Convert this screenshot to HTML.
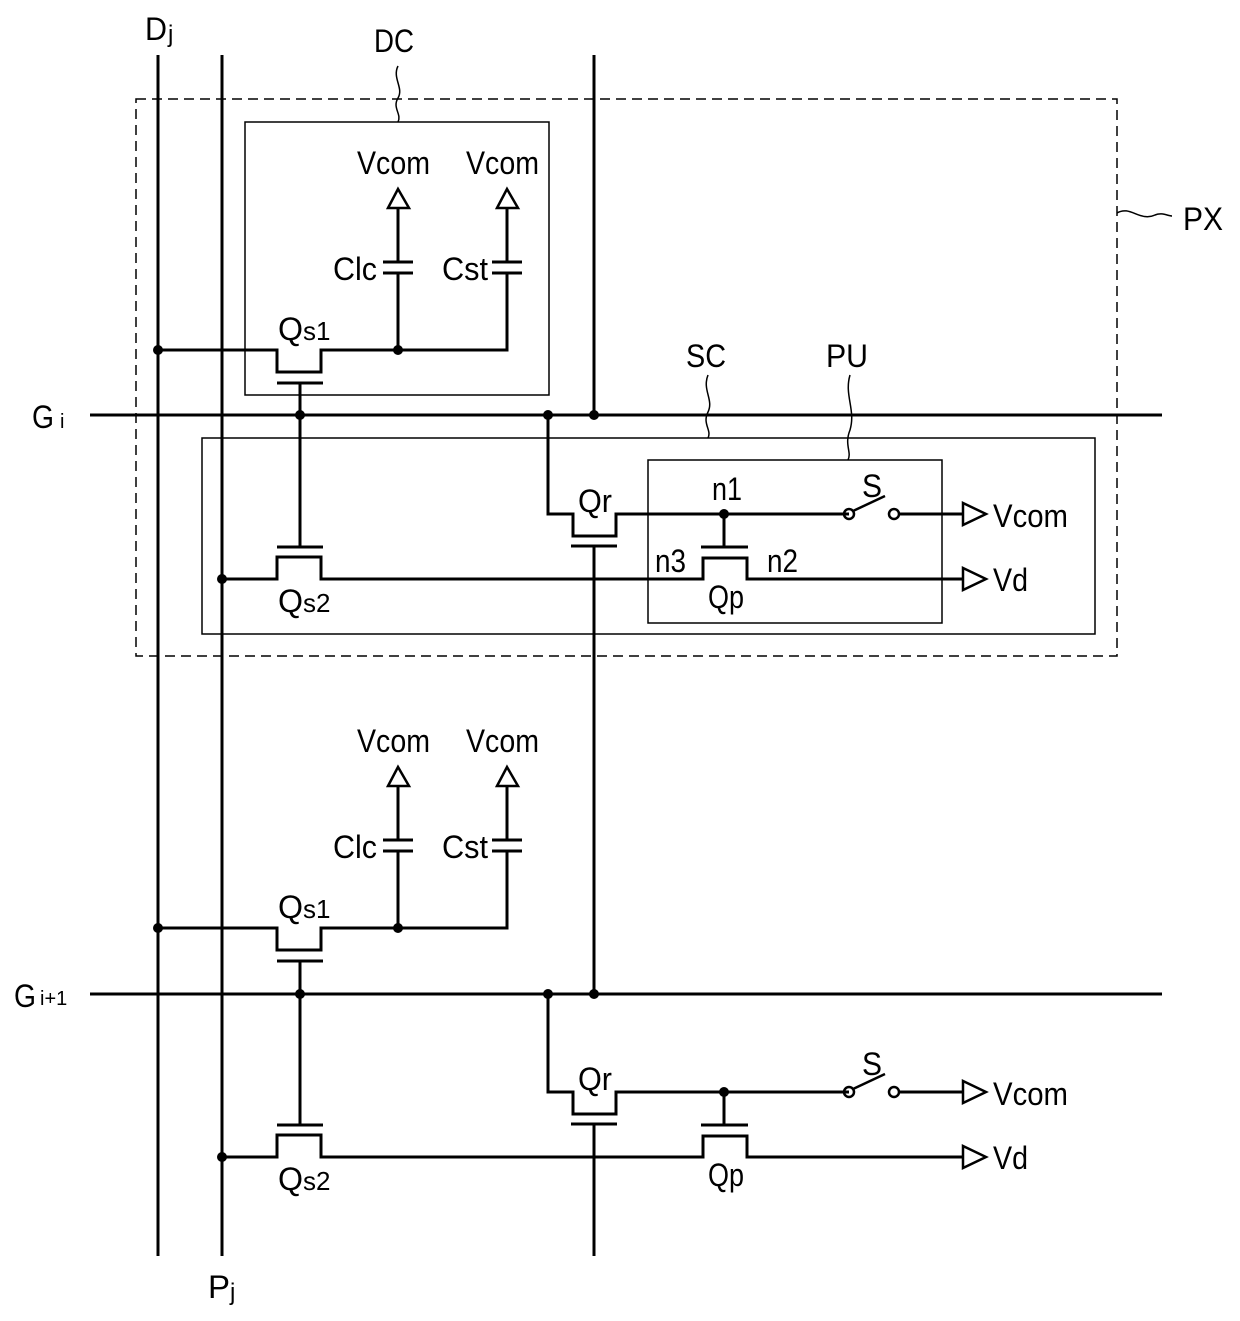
<!DOCTYPE html>
<html><head><meta charset="utf-8"><style>
html,body{margin:0;padding:0;background:#fff}
svg{display:block}
text{font-family:"Liberation Sans",sans-serif;fill:#000;font-size:32px}
.s{font-size:20px}
</style></head><body>
<svg width="1240" height="1321" viewBox="0 0 1240 1321" xmlns="http://www.w3.org/2000/svg">
<g fill="none" stroke="#000" stroke-width="3">
<line x1="158" y1="55" x2="158" y2="1256"/>
<line x1="222" y1="55" x2="222" y2="1256"/>
<line x1="594" y1="55" x2="594" y2="415"/>
<line x1="594" y1="546" x2="594" y2="994"/>
<line x1="594" y1="1125" x2="594" y2="1256"/>
<line x1="90" y1="415" x2="1162" y2="415"/>
<line x1="90" y1="994" x2="1162" y2="994"/>
</g>
<g fill="none" stroke="#000" stroke-width="1.5">
<rect x="245" y="122" width="304" height="273"/>
<rect x="202" y="438" width="893" height="196"/>
<rect x="648" y="460" width="294" height="163"/>
<rect x="136" y="99" width="981" height="557" stroke-dasharray="10,6"/>
<path d="M398 66 C392 78,404 88,398 98 C392 108,402 114,398 122"/>
<path d="M708 375 C702 390,714 400,708 412 C702 424,712 430,708 438"/>
<path d="M850 375 C844 395,856 410,850 430 C844 445,852 452,848 460"/>
<path d="M1117 213 C1130 205,1140 222,1155 215 C1162 212,1168 216,1172 216"/>
</g>
<g fill="none" stroke="#000" stroke-width="3">
<path d="M158 350 H277 V372 H321 V350 H507 V273"/>
<line x1="507" y1="262" x2="507" y2="208"/>
<line x1="277" y1="383" x2="323" y2="383"/>
<line x1="300" y1="383" x2="300" y2="547"/>
<path d="M398 350 V273 M383 273 H413 M383 262 H413 M398 262 V208"/>
<path d="M492 273 H522 M492 262 H522"/>
<path d="M388 208 L398 189 L409 208 Z" stroke-width="2.5"/>
<path d="M497 208 L507 189 L518 208 Z" stroke-width="2.5"/>
<line x1="277" y1="547" x2="323" y2="547"/>
<path d="M222 579 H277 V557 H321 V579 H703 V558 H747 V579 H962"/>
<path d="M548 415 V514 H573 V536 H616 V514 H849"/>
<line x1="571" y1="546" x2="617" y2="546"/>
<line x1="701" y1="547" x2="748" y2="547"/>
<line x1="724" y1="514" x2="724" y2="547"/>
<circle cx="849" cy="514" r="5" stroke-width="2.5"/>
<circle cx="894" cy="514" r="5" stroke-width="2.5"/>
<line x1="853" y1="511" x2="885" y2="496" stroke-width="2.5"/>
<line x1="899" y1="514" x2="962" y2="514"/>
<path d="M963 503 L986 514 L963 525 Z" stroke-width="2.5"/>
<path d="M963 568 L986 579 L963 590 Z" stroke-width="2.5"/>
</g>
<g fill="#000">
<circle cx="158" cy="350" r="5"/><circle cx="398" cy="350" r="5"/>
<circle cx="300" cy="415" r="5"/><circle cx="548" cy="415" r="5"/><circle cx="594" cy="415" r="5"/>
<circle cx="222" cy="579" r="5"/><circle cx="724" cy="514" r="5"/>
</g>
<g transform="translate(0,578)">
<g fill="none" stroke="#000" stroke-width="3">
<path d="M158 350 H277 V372 H321 V350 H507 V273"/>
<line x1="507" y1="262" x2="507" y2="208"/>
<line x1="277" y1="383" x2="323" y2="383"/>
<line x1="300" y1="383" x2="300" y2="547"/>
<path d="M398 350 V273 M383 273 H413 M383 262 H413 M398 262 V208"/>
<path d="M492 273 H522 M492 262 H522"/>
<path d="M388 208 L398 189 L409 208 Z" stroke-width="2.5"/>
<path d="M497 208 L507 189 L518 208 Z" stroke-width="2.5"/>
<line x1="277" y1="547" x2="323" y2="547"/>
<path d="M222 579 H277 V557 H321 V579 H703 V558 H747 V579 H962"/>
<path d="M548 416 V514 H573 V536 H616 V514 H849"/>
<line x1="571" y1="546" x2="617" y2="546"/>
<line x1="701" y1="547" x2="748" y2="547"/>
<line x1="724" y1="514" x2="724" y2="547"/>
<circle cx="849" cy="514" r="5" stroke-width="2.5"/>
<circle cx="894" cy="514" r="5" stroke-width="2.5"/>
<line x1="853" y1="511" x2="885" y2="496" stroke-width="2.5"/>
<line x1="899" y1="514" x2="962" y2="514"/>
<path d="M963 503 L986 514 L963 525 Z" stroke-width="2.5"/>
<path d="M963 568 L986 579 L963 590 Z" stroke-width="2.5"/>
</g>
<g fill="#000">
<circle cx="158" cy="350" r="5"/><circle cx="398" cy="350" r="5"/>
<circle cx="300" cy="416" r="5"/><circle cx="548" cy="416" r="5"/><circle cx="594" cy="416" r="5"/>
<circle cx="222" cy="579" r="5"/><circle cx="724" cy="514" r="5"/>
</g>
</g>
<text x="145" y="40" textLength="22" lengthAdjust="spacingAndGlyphs">D</text><text x="168" y="42" style="font-size:24px">j</text>
<text x="374" y="52" textLength="40" lengthAdjust="spacingAndGlyphs">DC</text>
<text x="1183" y="230" textLength="40" lengthAdjust="spacingAndGlyphs">PX</text>
<text x="32" y="428" textLength="22" lengthAdjust="spacingAndGlyphs">G</text><text x="60" y="428" class="s">i</text>
<text x="14" y="1007" textLength="22" lengthAdjust="spacingAndGlyphs">G</text><text x="40" y="1005" class="s">i+1</text>
<text x="208" y="1298" textLength="22" lengthAdjust="spacingAndGlyphs">P</text><text x="230" y="1300" style="font-size:24px">j</text>
<text x="686" y="367" textLength="40" lengthAdjust="spacingAndGlyphs">SC</text>
<text x="826" y="367" textLength="42" lengthAdjust="spacingAndGlyphs">PU</text>
<g>
<text x="357" y="174" textLength="73" lengthAdjust="spacingAndGlyphs">Vcom</text>
<text x="466" y="174" textLength="73" lengthAdjust="spacingAndGlyphs">Vcom</text>
<text x="333" y="280" textLength="44" lengthAdjust="spacingAndGlyphs">Clc</text>
<text x="442" y="280" textLength="46" lengthAdjust="spacingAndGlyphs">Cst</text>
<text x="278" y="340" textLength="25" lengthAdjust="spacingAndGlyphs">Q</text><text x="303" y="340" style="font-size:26px">s1</text>
<text x="278" y="612" textLength="25" lengthAdjust="spacingAndGlyphs">Q</text><text x="303" y="612" style="font-size:26px">s2</text>
<text x="578" y="512" textLength="34" lengthAdjust="spacingAndGlyphs">Qr</text>
<text x="712" y="500" textLength="30" lengthAdjust="spacingAndGlyphs">n1</text>
<text x="655" y="572" textLength="31" lengthAdjust="spacingAndGlyphs">n3</text>
<text x="767" y="572" textLength="31" lengthAdjust="spacingAndGlyphs">n2</text>
<text x="708" y="608" textLength="36" lengthAdjust="spacingAndGlyphs">Qp</text>
<text x="862" y="497" textLength="20" lengthAdjust="spacingAndGlyphs">S</text>
<text x="993" y="527" textLength="75" lengthAdjust="spacingAndGlyphs">Vcom</text>
<text x="993" y="591" textLength="35" lengthAdjust="spacingAndGlyphs">Vd</text>
</g>
<g transform="translate(0,578)">
<text x="357" y="174" textLength="73" lengthAdjust="spacingAndGlyphs">Vcom</text>
<text x="466" y="174" textLength="73" lengthAdjust="spacingAndGlyphs">Vcom</text>
<text x="333" y="280" textLength="44" lengthAdjust="spacingAndGlyphs">Clc</text>
<text x="442" y="280" textLength="46" lengthAdjust="spacingAndGlyphs">Cst</text>
<text x="278" y="340" textLength="25" lengthAdjust="spacingAndGlyphs">Q</text><text x="303" y="340" style="font-size:26px">s1</text>
<text x="278" y="612" textLength="25" lengthAdjust="spacingAndGlyphs">Q</text><text x="303" y="612" style="font-size:26px">s2</text>
<text x="578" y="512" textLength="34" lengthAdjust="spacingAndGlyphs">Qr</text>
<text x="708" y="608" textLength="36" lengthAdjust="spacingAndGlyphs">Qp</text>
<text x="862" y="497" textLength="20" lengthAdjust="spacingAndGlyphs">S</text>
<text x="993" y="527" textLength="75" lengthAdjust="spacingAndGlyphs">Vcom</text>
<text x="993" y="591" textLength="35" lengthAdjust="spacingAndGlyphs">Vd</text>
</g>
</svg>
</body></html>
